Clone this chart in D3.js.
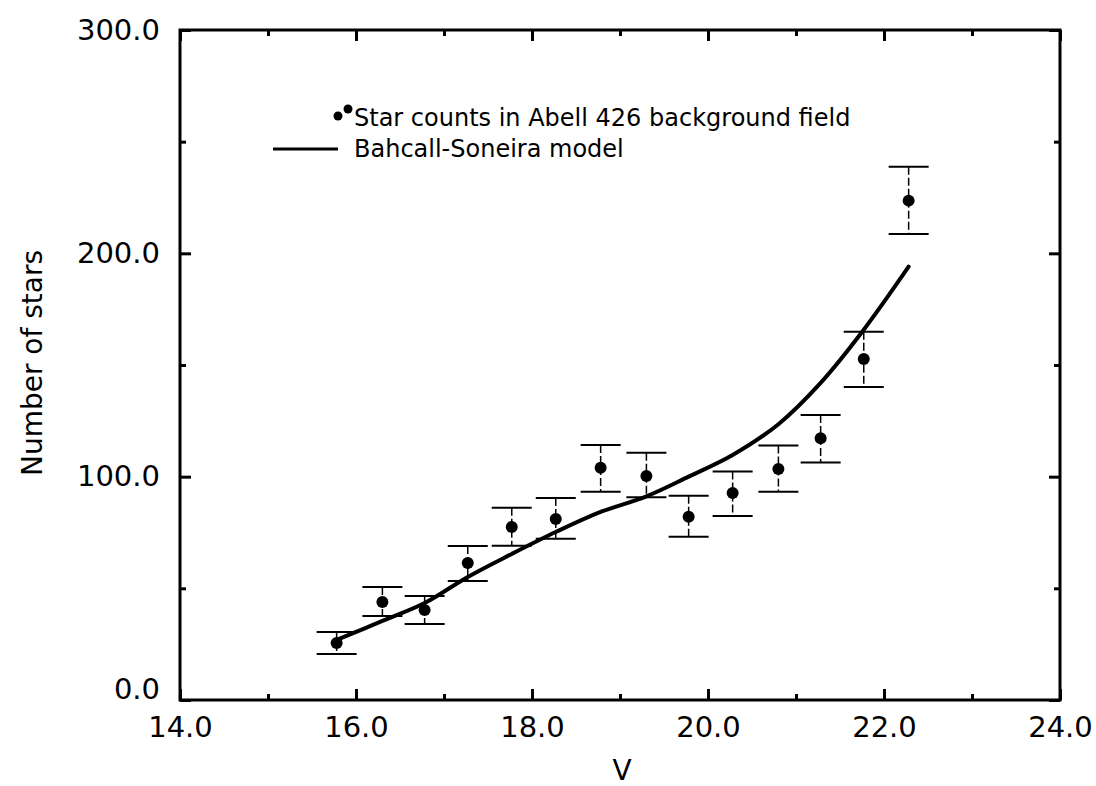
<!DOCTYPE html>
<html>
<head>
<meta charset="utf-8">
<script src="https://cdn.jsdelivr.net/npm/d3@7"></script>
<style>
  body { margin: 0; background: #fff; }
  text { font-family: "DejaVu Sans", "Liberation Sans", Arial, sans-serif; fill: #000; }
</style>
</head>
<body>
<svg id="chart" width="1096" height="786"></svg>
<script>
//---------- data ----------
// V magnitude of each bin
const magV = [15.78, 16.30, 16.78, 17.27, 17.77, 18.27, 18.78, 19.30, 19.78, 20.28, 20.80, 21.28, 21.77, 22.28];
// star counts in Abell 426 background field
const starCounts = [25.5, 43.9, 40.3, 61.3, 77.5, 81.0, 104.0, 100.3, 82.1, 92.7, 103.4, 117.2, 152.7, 223.6];
const errHigh = [30.4, 50.6, 46.6, 69.0, 86.1, 90.4, 114.2, 110.7, 91.5, 102.3, 113.9, 127.6, 164.9, 238.8];
const errLow = [20.6, 37.6, 34.0, 53.3, 69.1, 72.2, 93.3, 90.8, 73.1, 82.4, 93.3, 106.3, 140.1, 208.7];
// Bahcall-Soneira model
const modelCounts = [26.9, 35.4, 43.4, 55.1, 65.4, 75.2, 84.2, 91.2, 100.0, 109.7, 123.5, 142.0, 165.8, 194.0];

const xMajor = [14, 16, 18, 20, 22, 24];
const xMinor = [15, 17, 19, 21, 23];
const yMajor = [0, 100, 200, 300];
const yMinor = [50, 150, 250];

const legendLabels = ["Star counts in Abell 426 background field", "Bahcall-Soneira model"];

//---------- setup ----------
const svg = d3.select("#chart");
const plotLeft = 180, plotRight = 1060, plotTop = 30, plotBottom = 700;

const x = d3.scaleLinear().domain([14, 24]).range([plotLeft, plotRight]);
const y = d3.scaleLinear().domain([0, 300]).range([plotBottom, plotTop]);

// axes, ticks pointing inward on all four sides
function drawAxis(axisFn, scale, ticks, size, transform, labels) {
  let a = axisFn(scale).tickValues(ticks).tickSizeInner(-size).tickSizeOuter(0);
  if (labels) a.tickFormat(d3.format(".1f")).tickPadding(20);
  else a.tickFormat("");
  let g = svg.append("g").attr("transform", transform).call(a);
  g.select(".domain").remove();
  g.selectAll("line").attr("stroke", "#000").attr("stroke-width", 3);
  g.selectAll("text").style("font-size", "29px").style("font-family", null).attr("fill", "#000");
  return g;
}

let xg = drawAxis(d3.axisBottom, x, xMajor, 11, `translate(0,${plotBottom})`, true);
xg.selectAll(".tick text").attr("y", 16);
drawAxis(d3.axisBottom, x, xMinor, 6, `translate(0,${plotBottom})`, false);
drawAxis(d3.axisTop, x, xMajor, 11, `translate(0,${plotTop})`, false);
drawAxis(d3.axisTop, x, xMinor, 6, `translate(0,${plotTop})`, false);

let yg = drawAxis(d3.axisLeft, y, yMajor, 11, `translate(${plotLeft},0)`, true);
// the 0.0 label sits a little higher than its tick
yg.selectAll(".tick text").filter(d => d === 0).attr("dy", "-0.05em");
drawAxis(d3.axisLeft, y, yMinor, 6, `translate(${plotLeft},0)`, false);
drawAxis(d3.axisRight, y, yMajor, 11, `translate(${plotRight},0)`, false);
drawAxis(d3.axisRight, y, yMinor, 6, `translate(${plotRight},0)`, false);

// frame
svg.append("rect")
  .attr("x", plotLeft).attr("y", plotTop)
  .attr("width", plotRight - plotLeft).attr("height", plotBottom - plotTop)
  .attr("fill", "none").attr("stroke", "#000").attr("stroke-width", 3);

// axis titles
svg.append("text")
  .attr("x", 622).attr("y", 780)
  .attr("text-anchor", "middle")
  .style("font-size", "28px")
  .text("V");

svg.append("text")
  .attr("transform", "translate(42,363) rotate(-90)")
  .attr("text-anchor", "middle")
  .style("font-size", "28px")
  .text("Number of stars");

//---------- model line ----------
const line = d3.line()
  .x((d, i) => x(magV[i]))
  .y(d => y(d))
  .curve(d3.curveCatmullRom.alpha(0.5));

svg.append("path")
  .datum(modelCounts)
  .attr("d", line)
  .attr("fill", "none")
  .attr("stroke", "#000")
  .attr("stroke-width", 4)
  .attr("stroke-linecap", "round");

//---------- error bars and points ----------
const capHalf = 20;
let bars = svg.append("g").selectAll("g")
  .data(starCounts)
  .join("g");

bars.append("line")
  .attr("x1", (d, i) => x(magV[i])).attr("x2", (d, i) => x(magV[i]))
  .attr("y1", (d, i) => y(errHigh[i])).attr("y2", (d, i) => y(errLow[i]))
  .attr("stroke", "#000").attr("stroke-width", 1.5)
  .attr("stroke-dasharray", "8,3");

bars.append("line")
  .attr("x1", (d, i) => x(magV[i]) - capHalf).attr("x2", (d, i) => x(magV[i]) + capHalf)
  .attr("y1", (d, i) => y(errHigh[i])).attr("y2", (d, i) => y(errHigh[i]))
  .attr("stroke", "#000").attr("stroke-width", 2);

bars.append("line")
  .attr("x1", (d, i) => x(magV[i]) - capHalf).attr("x2", (d, i) => x(magV[i]) + capHalf)
  .attr("y1", (d, i) => y(errLow[i])).attr("y2", (d, i) => y(errLow[i]))
  .attr("stroke", "#000").attr("stroke-width", 2);

bars.append("circle")
  .attr("cx", (d, i) => x(magV[i]))
  .attr("cy", d => y(d))
  .attr("r", 6)
  .attr("fill", "#000");

//---------- legend ----------
let legend = svg.append("g");
legend.append("circle").attr("cx", 338).attr("cy", 116).attr("r", 4.5).attr("fill", "#000");
legend.append("circle").attr("cx", 348).attr("cy", 109).attr("r", 4.5).attr("fill", "#000");
legend.append("text")
  .attr("x", 354).attr("y", 126)
  .style("font-size", "24px")
  .text(legendLabels[0]);

legend.append("line")
  .attr("x1", 273).attr("x2", 338)
  .attr("y1", 149).attr("y2", 149)
  .attr("stroke", "#000").attr("stroke-width", 3);
legend.append("text")
  .attr("x", 354).attr("y", 157)
  .style("font-size", "24px")
  .text(legendLabels[1]);
</script>
</body>
</html>
